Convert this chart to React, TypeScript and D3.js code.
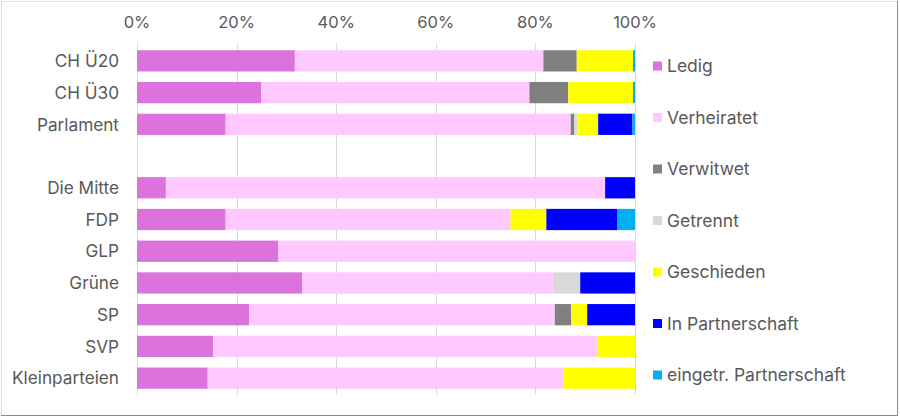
import React from "react";
import * as d3 from "d3";

const categories = ["CH Ü20", "CH Ü30", "Parlament", "", "Die Mitte", "FDP", "GLP", "Grüne", "SP", "SVP", "Kleinparteien"];
const seriesNames = ["Ledig", "Verheiratet", "Verwitwet", "Getrennt", "Geschieden", "In Partnerschaft", "eingetr. Partnerschaft"];
const seriesColors = ["#DC73DC", "#FFC8FF", "#808080", "#D9D9D9", "#FFFF00", "#0000FF", "#00B0F0"];

const ledig = [31.7, 24.9, 17.8, 0, 5.8, 17.8, 28.4, 33.2, 22.5, 15.3, 14.2];
const verheiratet = [49.9, 53.9, 69.3, 0, 88.2, 57.2, 71.6, 50.3, 61.4, 77.1, 71.5];
const verwitwet = [6.7, 7.8, 0.7, 0, 0, 0, 0, 0, 3.3, 0, 0];
const getrennt = [0, 0, 0.6, 0, 0, 0, 0, 5.5, 0, 0, 0];
const geschieden = [11.3, 13.0, 4.2, 0, 0, 7.2, 0, 0, 3.2, 7.6, 14.3];
const inPartnerschaft = [0, 0, 6.9, 0, 6.0, 14.3, 0, 11.0, 9.6, 0, 0];
const eingetrPartnerschaft = [0.4, 0.4, 0.5, 0, 0, 3.5, 0, 0, 0, 0, 0];

const tickValues = [0, 20, 40, 60, 80, 100];

const seriesValues = [ledig, verheiratet, verwitwet, getrennt, geschieden, inPartnerschaft, eingetrPartnerschaft];

export default function App() {
  const W = 900, H = 417;
  const x = d3.scaleLinear().domain([0, 100]).range([137, 635]);
  const y = d3.scaleBand().domain(categories.map((c, i) => String(i))).range([45, 394]).paddingInner(0.33).paddingOuter(0.165);
  const rows = categories.map((c, i) => {
    const o: any = { key: String(i) };
    seriesNames.forEach((s, j) => (o[s] = seriesValues[j][i]));
    return o;
  });
  const stack = d3.stack<any>().keys(seriesNames)(rows);
  const font = "Inter, 'Noto Sans', sans-serif";
  const textColor = "#595959";
  const legendY = d3.scalePoint().domain(seriesNames).range([66, 375]);

  return (
    <div style={{ position: "fixed", left: 0, top: 0, width: W, height: H, background: "#fff" }}>
      <svg width={W} height={H} style={{ display: "block" }} fontFamily={font}>
        <rect x={0} y={0} width={W} height={H} fill="#fff" />
        <line x1={1} y1={1.5} x2={897} y2={1.5} stroke="#e0e0e0" />
        <line x1={1.5} y1={1} x2={1.5} y2={415} stroke="#e0e0e0" />
        <line x1={897.5} y1={1} x2={897.5} y2={416} stroke="#8a8a8a" />
        <line x1={1} y1={415.5} x2={898} y2={415.5} stroke="#8a8a8a" />
        {tickValues.map((t) => (
          <g key={t}>
            <line x1={Math.round(x(t)) + 0.5} x2={Math.round(x(t)) + 0.5} y1={43} y2={395} stroke="#d9d9d9" strokeWidth={1} />
            <text x={x(t)} y={28} textAnchor="middle" fontSize={16.5} fill={textColor}>{t}%</text>
          </g>
        ))}
        {stack.map((layer, j) => (
          <g key={seriesNames[j]} fill={seriesColors[j]}>
            {layer.map((d, i) =>
              d[1] - d[0] > 0 ? (
                <rect key={i} x={x(d[0])} width={x(d[1]) - x(d[0])} y={y(String(i))} height={y.bandwidth()} />
              ) : null
            )}
          </g>
        ))}
        {categories.map((c, i) => (
          <text key={i} x={119} y={(y(String(i)) as number) + y.bandwidth() / 2} dy="0.36em" textAnchor="end" fontSize={17.2} fill={textColor}>{c}</text>
        ))}
        {seriesNames.map((s, j) => (
          <g key={s}>
            <rect x={653} y={legendY(s)! - 4.5} width={9} height={9} fill={seriesColors[j]} />
            <text x={667} y={legendY(s)!} dy="0.36em" fontSize={17.5} fill={textColor}>{s}</text>
          </g>
        ))}
      </svg>
    </div>
  );
}
